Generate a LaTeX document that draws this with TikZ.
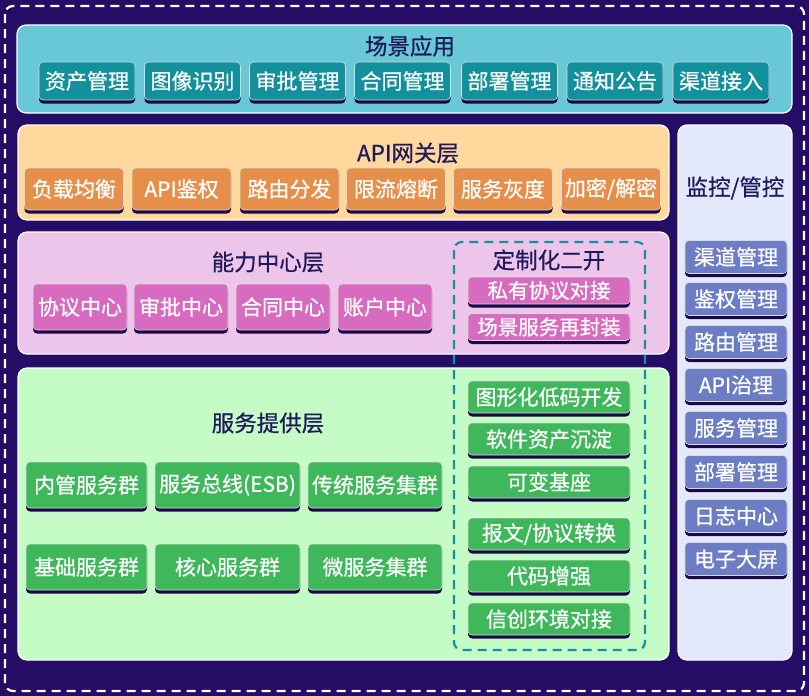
\documentclass[tikz,border=0pt]{standalone}
\usepackage{fontspec}
\setmainfont{Noto Sans CJK SC}[FakeBold=0.6]
\usetikzlibrary{shadows}
\definecolor{bgpurple}{HTML}{250C64}
\definecolor{titlenavy}{HTML}{1F1A5C}
\definecolor{cyanlayer}{HTML}{68C8D5}
\definecolor{cyanitem}{HTML}{12909C}
\definecolor{orangelayer}{HTML}{FED89C}
\definecolor{orangeitem}{HTML}{E68F4B}
\definecolor{monlayer}{HTML}{E4E8FB}
\definecolor{monitem}{HTML}{6C7CC5}
\definecolor{pinklayer}{HTML}{EEC5EA}
\definecolor{pinkitem}{HTML}{D76BBF}
\definecolor{greenlayer}{HTML}{C5FCC6}
\definecolor{greenitem}{HTML}{3FB85B}
\definecolor{tealdash}{HTML}{13929E}
\begin{document}
\begin{tikzpicture}[x=1pt, y=-1pt,
  layer/.style={draw=white, line width=1.2pt, rounded corners=9pt},
  title/.style={text=titlenavy, font=\fontsize{22.5}{22.5}\selectfont, inner sep=0pt},
  item/.style={draw=white!85!black, line width=0.6pt, rounded corners=4pt, text=white,
    inner sep=0pt, font=\fontsize{21}{21}\selectfont,
    drop shadow={shadow xshift=0pt, shadow yshift=-3.5pt, fill=bgpurple!70!black, opacity=1}},
  sceneitem/.style={item, fill=cyanitem, minimum width=96pt, minimum height=38pt},
  gateitem/.style={item, fill=orangeitem, minimum width=99pt, minimum height=42pt},
  monitem/.style={item, fill=monitem, minimum width=102pt, minimum height=33pt},
  abilityitem/.style={item, fill=pinkitem, minimum width=94pt, minimum height=46pt},
  custpink/.style={item, fill=pinkitem, minimum width=162pt, minimum height=27pt, font=\fontsize{20.5}{20.5}\selectfont},
  custgreen/.style={item, fill=greenitem, minimum width=162pt, minimum height=32pt},
  svcitem/.style={item, fill=greenitem, minimum height=46pt}]
  \fill[bgpurple] (0,0) rectangle (809,696);
  \useasboundingbox (0,0) rectangle (809,696);
  \draw[white, dashed, line width=2.2pt, dash pattern=on 9pt off 6pt, rounded corners=8pt] (5,6) rectangle (804,691);

  \draw[layer, fill=cyanlayer] (17,25) rectangle (792,113);
  \node[title] (scene) at (410,46) {场景应用};
  \node[sceneitem] (s1) at (87,81) {资产管理};
  \node[sceneitem] (s2) at (192.5,81) {图像识别};
  \node[sceneitem] (s3) at (297.5,81) {审批管理};
  \node[sceneitem] (s4) at (402.5,81) {合同管理};
  \node[sceneitem] (s5) at (509.5,81) {部署管理};
  \node[sceneitem] (s6) at (615,81) {通知公告};
  \node[sceneitem] (s7) at (721,81) {渠道接入};

  \draw[layer, fill=orangelayer] (18,125) rectangle (669,220);
  \node[title] (gateway) at (408,153) {API网关层};
  \node[gateitem] (g1) at (74,189) {负载均衡};
  \node[gateitem] (g2) at (181.5,189) {API鉴权};
  \node[gateitem] (g3) at (289.5,189) {路由分发};
  \node[gateitem] (g4) at (396,189) {限流熔断};
  \node[gateitem] (g5) at (503,189) {服务灰度};
  \node[gateitem] (g6) at (611,189) {加密/解密};

  \draw[layer, fill=monlayer] (678,125) rectangle (792,660);
  \node[title] (monitor) at (735,188) {监控/管控};
  \node[monitem] (m1) at (736,257) {渠道管理};
  \node[monitem] (m2) at (736,299) {鉴权管理};
  \node[monitem] (m3) at (736,342) {路由管理};
  \node[monitem] (m4) at (736,385) {API治理};
  \node[monitem] (m5) at (736,428) {服务管理};
  \node[monitem] (m6) at (736,472) {部署管理};
  \node[monitem] (m7) at (736,516) {日志中心};
  \node[monitem] (m8) at (736,559) {电子大屏};

  \draw[layer, fill=pinklayer] (18,232) rectangle (669,354);
  \node[title] (ability) at (268,262) {能力中心层};
  \node[abilityitem] (c1) at (80,307) {协议中心};
  \node[abilityitem] (c2) at (181,307) {审批中心};
  \node[abilityitem] (c3) at (283,307) {合同中心};
  \node[abilityitem] (c4) at (385,307) {账户中心};

  \draw[layer, fill=greenlayer] (18,368) rectangle (669,660);
  \node[title] (service) at (268,423) {服务提供层};
  \node[svcitem, minimum width=121pt] (v1) at (86.5,485) {内管服务群};
  \node[svcitem, minimum width=145pt] (v2) at (227.5,485) {服务总线(ESB)};
  \node[svcitem, minimum width=134pt] (v3) at (375,485) {传统服务集群};
  \node[svcitem, minimum width=121pt] (v4) at (86.5,567) {基础服务群};
  \node[svcitem, minimum width=145pt] (v5) at (227.5,567) {核心服务群};
  \node[svcitem, minimum width=134pt] (v6) at (375,567) {微服务集群};

  \draw[tealdash, dashed, line width=2.2pt, dash pattern=on 9pt off 6pt, rounded corners=8pt] (454,242) rectangle (645,650);
  \node[title] (custom) at (549,260) {定制化二开};
  \node[custpink] (d1) at (549,290.5) {私有协议对接};
  \node[custpink] (d2) at (549,327) {场景服务再封装};
  \node[custgreen] (d3) at (549,397) {图形化低码开发};
  \node[custgreen] (d4) at (549,439) {软件资产沉淀};
  \node[custgreen] (d5) at (549,482) {可变基座};
  \node[custgreen] (d6) at (549,534) {报文/协议转换};
  \node[custgreen] (d7) at (549,576) {代码增强};
  \node[custgreen] (d8) at (549,619) {信创环境对接};
\end{tikzpicture}
\end{document}
